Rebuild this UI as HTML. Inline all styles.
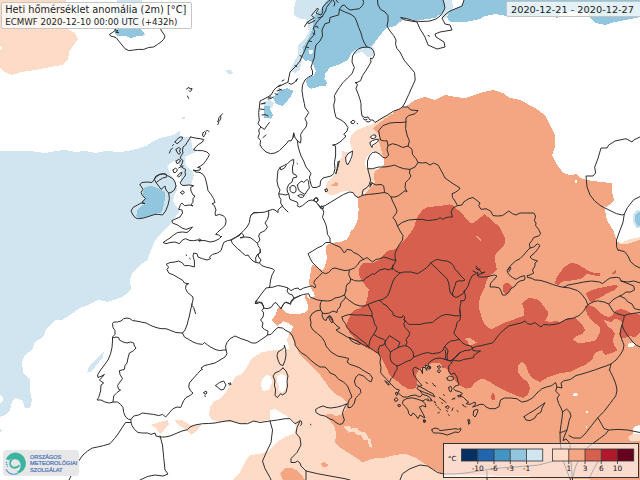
<!DOCTYPE html>
<html><head><meta charset="utf-8"><title>Heti hőmérséklet anomália</title>
<style>
html,body{margin:0;padding:0;background:#fff;}
body{width:640px;height:480px;overflow:hidden;position:relative;font-family:"DejaVu Sans","Liberation Sans",sans-serif;}
svg{position:absolute;left:0;top:0;display:block}
.box{position:absolute;box-sizing:border-box;background:rgba(255,255,255,.75);border:1px solid #c4c4c4;border-radius:2px;color:#111;white-space:nowrap}
#title{left:1px;top:2px;width:191px;height:27px}
#date{left:506px;top:1px;width:140px;height:16px}
#legend{left:443px;top:443px;width:196px;height:35px;background:rgba(255,255,255,.6);border:1px solid #333;border-radius:0}
#logo{position:absolute;left:3px;top:449.5px;width:76px;height:26.5px;border-radius:3.5px;background:#e7e7e7}
</style></head><body>
<svg width="640" height="480" viewBox="0 0 640 480">
<g shape-rendering="crispEdges">
<polygon fill="#d1e5f0" points="0,151 10,151 30,151 45,153 55,151 65,150 75,152 85,151 95,153 105,151 120,152 130,150.6 137.5,148.7 146,146 151,142.5 161,137.7 171,135.6 176,133.7 179.4,130 180,137 190,137 191,141 192.5,147.5 196,152 189,155 185,157 185,161 186,166 189.4,168.8 192.5,171 193.7,175 192.5,180 191,184 193,185.6 180.6,185 180,182.5 181,177 181,172 180,167 178,162 176,159.4 172.5,162 167,166 168.7,170 170.6,175 176,182.5 177.5,188.7 174.4,195 173,201 177.5,207.5 180,208.7 178.7,212.5 176,216 171,222.5 167.5,227.5 160,234 155,241 151,250 147.5,260 140,265 132.5,272.5 130,280 131,289 125,295 122,297 108,302 98,300 88,305 80,308 70,315 62,320 55,320 47,328 43,337 35,342 32,350 25,355 22,362 23,372 30,380 30,390 32,400 30,408 25,408 22,400 15,398 12,402 10,410 5,415 0,417"/>
<polygon fill="#92c5de" points="145,187 150,186 155,187 158.7,188.7 162.5,190.6 165,192.5 165,198.7 163.7,205 162.5,210 161,213 156,213.7 150,215.6 143.7,217.5 138.7,218 136,216 137.5,212.5 137,210 141,206 143.7,205 145.6,203.7 142.5,202.5 146,198 143.7,196 142.5,193.7 143.7,190.6"/>
<polygon fill="#d1e5f0" points="87,372 90,365 100,355 104,352 103,357 95,367 90,372"/>
<polygon fill="#d1e5f0" points="226,70 230,70 233,73 230,74.5 227,73"/>
<polygon fill="#d1e5f0" points="182,117 185,117 185,119 182,118.5"/>
<polygon fill="#d1e5f0" points="117,0 142,0 141,29.4 114.4,29.4"/>
<polygon fill="#92c5de" points="114.4,29.4 141,29.4 143,31 144.7,34.4 142.5,36 137.5,36 133,37.5 129.4,37.5 125,35.6 120,35.6 117,36 115,33.7"/>
<polygon fill="#d1e5f0" points="296.5,0 294.7,3.7 294.2,9.4 293.7,14 296.5,17 301,18.7 307,19.7 307.8,26 308.7,31 307,35.6 304,40 299.4,44 297.5,46 298,52.5 298,55 293.7,62.5 290,70 295,73 300,70 301,63.7 302.5,57.5 310,60 320,30 330,0"/>
<polygon fill="#d1e5f0" points="265,101 271,100 273.7,103.7 272,108 265,108 263,104"/>
<polygon fill="#92c5de" points="327.5,0 323.7,4.7 322,8.4 318,12 315,16 313.4,20.6 312.5,28 310,34.7 307.8,39.4 305,44 302.5,47.5 303,50 302.5,57.5 305,61 308.7,60 312.5,62.5 313.7,66 316,71 313.7,75.6 308.7,77.5 305.6,81 307.5,86 311,88.7 316,87.5 321,86 325.6,86 327,82.5 324.4,78.7 325,73.7 330,67.5 340,64 348,60 352,52 358,48 368,48 373,45 378,38 386,28 395,26 400,22 405,19 420,20 435,18 443,12 445,5 443,0"/>
<polygon fill="#ffffff" points="308.7,50 312.5,50.5 313,53 310,54.5 308.7,52.5"/>
<polygon fill="#92c5de" points="272.5,97.5 281,90 287,88 293.7,91 290,97.5 283,106 276,104"/>
<polygon fill="#92c5de" points="264.4,106 270,106 270.6,110.6 273,115 271,118.7 264.4,117.5 263.7,112.5"/>
<polygon fill="#d1e5f0" points="352,52 358,48 368,48 373,45 374,50 373,56 368,57 362,52 355,54"/>
<polygon fill="#d1e5f0" points="443,0 445,5 443,12 440,16 445,19 450,12 453,8 452,0"/>
<polygon fill="#92c5de" points="464,0 462,6 450,11 447,17 450,22 465,22 480,19 485,16 495,14 507,16 520,17 540,17 555,17 557,19 559,16.5 561,12 575,11.5 588,12 590,17 595,23 605,25 615,22 625,20 640,17 640,0"/>
<polygon fill="#fddbc7" points="0,0 66,0 66,28 75,33 78,39 73,46 69,52 68,60 62,65 50,67 35,70 22,72 12,75 5,72 0,68 0,50 2,48 0,45"/>
<polygon fill="#fddbc7" points="390,113.7 382.5,117.5 375,122.5 367.5,126 360,128.7 355,131 351,136 350,141 351,146 352.5,151 347.5,152.5 342.5,151 342,157.5 339,160 338,167.5 336,173.7 331,178.7 327.5,182.5 325.6,187.5 327.5,193.7 332,195.6 337.5,193.7 343.7,191 350,191 353,193.7 355.6,197 357.5,197.5 375,185 385,150 392,114"/>
<polygon fill="#f4a582" points="330.6,185.6 336,182 338.7,183.7 338,185.6 332.5,186.3"/>
<polygon fill="#fddbc7" points="297.5,349 294,342 292,337 289,333 287,340 290,349 277,350 262,352 251,359 247,367 242,374 235,377 231,385 226,392 220,399 214,401 210,407 209,415 212,420 220,422 232,422 245,424 252,422 260,421 270,420 270,410 275,409 285,415 290,419 293,420 296,427 295,433 285,437 277,442 270,450 260,454 250,455 245,462 240,472 232,480 620,480 620,440 400,440 350,400 310,355"/>
<polygon fill="#ffffff" points="262,379 266,375 271,376 272,383 269,390 263,391 261,385"/>
<polygon fill="#ffffff" points="277.5,376 281,373.7 285,375 287,380 286,388.7 282.5,392 279.4,391 278.7,386 277,381"/>
<polygon fill="#fddbc7" points="150,425 157.5,422.5 167.5,420 169,424 164,430 160,434 155,427.5"/>
<polygon fill="#fddbc7" points="175,420 181,419.5 190,425 201,425 196,431.5 191,435 186,430 177,424"/>
<polygon fill="#f4a582" points="392.5,113.7 395,110 405,107 415,100 425,97 435,100 445,95 455,97 465,98 480,93 493,90 503,93 510,98 520,100 535,108 545,115 550,125 555,135 555,147 552,155 556,163 563,173 570,175 577,174 580,178 587,180 600,182 612,183 612,192 614,200 612,203 606,207 604,206 607,220 614,232 617,242 625,244 635,240 640,239 640,480 600,480 560,478 520,476 470,475 443.7,473.7 440,472.5 430,467.5 422.5,462.5 415,457.5 405,453.7 395,455 385,457.5 372.5,458.7 362.5,462.5 357.5,458.7 350,453.7 340,447.5 335,442.5 336,435 335,427.5 332.5,423.7 329.4,420 326,416 327,414.4 332,413.7 336,416 340,415 345,411 347,406 347,403 345,400 341,397 336,394.4 331,390 326,383 321,376 315,370 308.7,363.7 303.7,358.7 299.4,353.7 297.5,349 294.4,342.5 292.5,337.5 289,333 292,330 293,326 288,323 283,321 280,324 277,326 272,320 276,314 278,308 280,307 283,310 285,312 290,313.7 297,314 304,313 308,310 307.5,303.7 304.4,296 306.5,295 309,299 311,298 315,296 313.7,292.5 310.6,287.5 308.7,282.5 310,277.5 310.6,272.5 311,267.5 312.5,265 316,266 322,270.6 323.7,268.7 325.6,263.7 327,257.5 325.6,251 326,246 330,243.5 335,242.5 341,242 347,239.4 349.4,235 351,230 353,230 355.6,225 357.5,220 358,215 358.7,210 358,203.7 357.5,197.5 361,196 366,192.5 371,187.5 375,182.5 373.7,176 375,171 379.4,168.5 383.5,165 384,160 382.5,155 381,148.7 379.4,142.5 378.7,135 376,131 372.5,128.7 378.7,123.7 385,118.7"/>
<polygon fill="#ffffff" points="372.5,151 376,152 378.7,153.5 382,157.5 383,162.5 381,166 378.7,168.7 372,169.5 367,169 364.5,163 366,158 369,154"/>
<polygon fill="#ffffff" points="345.6,157.5 348.7,153 352.7,152 353,155 352,160 348,163.7 346,162.5"/>
<polygon fill="#ffffff" points="370,136 372.5,134.4 375.6,135 375,138 372,138.2"/>
<polygon fill="#ffffff" points="370,142.5 373.7,140 378,139.4 377.5,143 373.7,145.6 371,146.3"/>
<polygon fill="#ffffff" points="575,180 577,180 577,183 575,183"/>
<polygon fill="#fddbc7" points="343,425.8 349,425.5 354,432 348.5,432.6"/>
<polygon fill="#fddbc7" points="351,427.5 357.5,428.5 362.5,435.5 356,434.4"/>
<polygon fill="#fddbc7" points="359.5,431 365.5,432.6 370,440.5 363,439.5"/>
<polygon fill="#fddbc7" points="367,437.8 370.6,439.5 372.3,448 369,446.4"/>
<polygon fill="#f4a582" points="321,463 324,462 329,465 326,467 322,467"/>
<polygon fill="#f4a582" points="280,473 285,468.5 291,467.5 297.5,471 302.5,476 305,480 283,480"/>
<polygon fill="#d6604d" points="369.4,290 367.5,288 365,285 362.5,281 360,277.5 358.7,273 359.4,268.7 360.6,265.6 363.7,263 368.7,262.5 373.7,262.5 378,260.6 381,258.7 382,256 385,253 388.7,250.6 393.7,250 397.5,247.5 401,243.7 405,240 408.7,235 412.5,230 415,225 416,220 418.7,215 422.5,210 428,207 440,206 445,205 450,204.4 453.7,206 458.7,210.6 463.7,215.6 468,220.6 472,223.7 476,221 481,217 484.4,214.4 488,217 493.7,222 499.4,227 502,232 505,238 505.6,241 504.4,244.4 500.6,249.4 498,251 495,256 495.6,263.7 497,270 493.7,272.5 488.7,277 486,282.5 484.4,288.7 480.6,296 478.7,302.5 479.4,310 480,311 482,318.7 485,325 491,329.4 497.5,326 503.7,323 511,320.6 518.7,317.5 524.4,316 524.4,310 522,303.7 526,300 530,297.5 538.7,300 543.7,306 548.7,313 545,321 550,322 555,321 560,322 567.5,318 576,318 577.5,320 583,326 585,330 582.5,334 576,336 573,340 577.5,342.5 585,342.5 594,341 597.5,337.5 600.6,331 600,327.5 596,324 591,320 587,314 585,306 589,305 595,307.5 600,312.5 605,316 609,317 612.5,315 615,311 620,309 625,310 630,312.5 635,313 640,315 640,332.5 635,337.5 630,336 625,338 621,337.5 619,334 621,329 622.5,324 620,320 615,319 611,322.5 607.5,321 604,320 607.5,326 612.5,330 615,334 612.5,340 614,345 617.5,350 612,353 605,355 602,350 595,353 592,360 585,365 578,368 570,372 560,373 548,377 540,382 532,378 528,372 526,365 522,362 518,365 518,372 522,378 528,382 530,388 527.8,395 523,398 515,395 506,391 497.5,387 491,382.5 485,379.4 480,379.4 475,382.5 471,387.5 466,388.7 460,385.6 455,380 450,375 447.5,370 443.7,367 440,363 435,362.5 430,363.7 425,366 418.7,370 416,375 417,380.6 417,385 415.6,388 412.5,389.4 407.5,388.7 402.5,385.6 397,381 392,377.5 388.7,373.7 387.5,370 385,365 380,355 372.5,350 368.7,348.7 363.7,346 358.7,342.5 353.7,337.5 349.4,332.5 347.5,327.5 347,323 348.7,318.7 351,313 355,310 361,307.5 365.6,303.7 367.5,297.5 368.7,290"/>
<polygon fill="#d6604d" points="554.8,283.6 557,276.6 563.4,268 571,262.5 577.5,264 587,270 594.7,273.4 600,273.4 599.4,276.6 593,275 587,274 580.6,279 571,280.5 563.4,281 558,285"/>
<polygon fill="#d6604d" points="612,273.4 615.8,270 616.5,272 613.5,274.3"/>
<polygon fill="#d6604d" points="586,293 594.7,289 605.6,286.7 615,285 619,286 615,289.8 607,293.7 599.4,297.7 593,301.6 590,301.6 587,296"/>
<polygon fill="#d6604d" points="503,285.6 506,282.5 510,283.7 512,287 509.4,290.6 506,294.4 503.7,292.5 502.5,288.7"/>
<polygon fill="#d6604d" points="491,396 493,392 495,395.6 495.6,399.4 493.7,400.6 491,398.7"/>
<polygon fill="#f4a582" points="465,339.4 467,337.5 470,338 473.7,340.6 477,342.5 473.7,344.4 470.6,345.6 468,343.7 467.5,340.6"/>
<polygon fill="#f4a582" points="475,236 476.5,235.5 481,240 480,241"/>
<polygon fill="#ffffff" points="627.5,345 630,342.5 635,343 634,347 629,347.5"/>
<polygon fill="#ffffff" points="586.3,411 588,411 588,413 586.3,413"/>
<polygon fill="#ffffff" points="585.5,426 587,426 587,427.6 585.5,427.6"/>
<polygon fill="#ffffff" points="573,394.5 575,393 578,394 576,396 573.5,396"/>
<polygon fill="#ffffff" points="632.5,429 636,426 640,425 640,434.5 633,434"/>
<polygon fill="#fddbc7" points="628,437 633,434 640,434.5 640,441 630,441"/>
<polygon fill="#d1e5f0" points="633,215 636,210.5 640,210 640,228 636,227.5 633,222"/>
<polygon fill="#92c5de" points="635,216 637.5,212.5 640,212 640,226 637,225.5 635,221"/>
<polygon fill="#fddbc7" points="620,243.5 630,239 640,237 640,240 632,242.5 625,244.5"/>
<polygon fill="#d1e5f0" points="0,429 2,430.5 0,432.5"/>
<polygon fill="#ffffff" points="0,395 3,397 3,401 0,403"/>
</g><g fill="none" stroke="#2e2e2e" stroke-width="1" stroke-linejoin="round" stroke-linecap="round">
<polyline points="115.6,28.7 115,30.6 112.5,32.5 109.4,34.4 110.6,36 116,37.5 118.7,41 122,45 125,48.7 128.7,50.6 133.7,50 138.7,49.4 143.7,49.4 148.7,47.5 153.7,47 157.5,44.4 161,42 163.7,39.4 165,36 163,33 161,30 160.6,28"/>
<polyline points="115.6,31 118,30.5 116,32.5 118.5,32.5"/>
<polyline points="186.5,89 188,88 189,87.3 190,89 192,88.3 191.5,90.5 190,91.5 189,90.5"/>
<polyline points="187.5,96 188.7,98.5"/>
<polyline points="222.5,113.7 220.5,116 219,117.5 218.5,120 217.5,121.5 219,122 217.8,124.5"/>
<polyline points="220.5,116 221,118 219.5,121"/>
<polyline points="203,133 204.5,131.5 206,133 204.5,135.5 203.5,137 202.5,135 203,133"/>
<polyline points="206,131 207.5,130.5 209,131.5"/>
<polyline points="190.6,137 195,138 200,138.7 203.7,139.4 202.5,142 198.7,144.4 195.6,147 193.7,150 197.5,150.6 202.5,150.6 207,152 209.4,154.4 208,157.5 206,160.6 203.7,163.7 200.6,166 197.5,167.5 200.6,168 200,170 196,170.6 193,170 196,172 200,172.5 203,174.4 205,177.5 206,181 207,185 208,190.6 211,194.4 213.7,198.7 215,202.5 212,203.7 214.4,205.6 216,210 215,213 215.6,215.6 219.4,214.4 223,215.6 225.6,218 226,222 225,225.6 222.5,228 220,230 217.5,232.5 215.6,234.4 218.7,235 221,237 222,236 219.4,238.7 215,241 210,242 205,240.6 200,240.6 197.5,240 193.7,240.6 190,240.6 185.6,238.7 182.5,240 179.4,243.7 175,242 170,242.5 166,243.7 163,242.5 166,240.6 170,238 173.7,235 177.5,232.5 182.5,232 187,232.5 190,230 192.5,227 190,228 186,229.4 182,228 177.5,225 172.5,223 172,220.6 176,218.7 180,217 182.5,213 182,210 178.7,209.4 180.6,204.4 182,203 184.4,205.6 190,205 193,206 191,204.4 193,202.5 193,198.7 195,196 193,195 191,191 190.6,187.5 193.7,185.6 188.7,185 183,185.6 180.6,183.7 180,183 182,180 183.7,177.5 185.6,175 185,172.5 185.6,169.4 183,168 180.6,166 182,163.7 183,160.6 180,158 181,156 183,153 182.5,150 183,147 185.6,145 187,142.5 188.7,140 190.6,137"/>
<polyline points="198.7,239.5 200,238.8 201.2,240 200,241.5 198.7,240.5"/>
<polyline points="180.6,192.5 183,190.6 184.4,192.5 182,194.4 180.6,192.5"/>
<polyline points="175,142 177,139.4 180,137 182.5,137 182,139.4 179.4,142 177,143.7 175,142"/>
<polyline points="169.4,153 170.6,150 172.5,148"/>
<polyline points="172.5,145.6 173.5,144.5"/>
<polyline points="176,149.4 178.7,147.5 180.6,148.7 179.4,151 180.6,153 178.7,154.4 177,152 176,149.4"/>
<polyline points="176,161 178.7,159.4 180.6,160.6 178.7,163 177,163.7 176,161"/>
<polyline points="173,170 175.6,168 177.5,170 175.6,172.5 173.7,172.5 173,170"/>
<polyline points="178.7,168 181,166.5 183,166"/>
<polyline points="177.5,176 180,173 182,172.5 180.6,175.6 178.7,177 177.5,176"/>
<polyline points="140,184.4 142,182.5 147,182 152,182.5 154.4,179.4 156,177 160,174.4 165,173.7 167.5,175.6 170,177 173,178.7 175,182 176,186 174.4,190 171,192.5 168.7,193 169.4,198.7 168,205 165.6,211 162.5,215 158.7,214.4 155,214.4 150,216 143.7,218 138.7,218.7 135.6,218 133,215 131,211 133,207.5 137.5,205 141,203 145,203.7 142,202 145.6,198.7 142.5,195.6 141,192.5 143,189.4 140.6,185.6 140,184.4"/>
<polyline points="154.4,179.4 156,182.5 158.7,186 161,189.4 165,186 166,190 168.7,193"/>
<polyline points="154.4,179.4 155.6,176.3 159.4,174.4 163.7,173.7 166.3,175 166.9,176.9 162.5,178.1 158.7,180.6 156.3,182.5"/>
<polyline points="240,234.4 238,235.6 235,238 231,240 227.5,240.6 223.7,242.5 222.5,246 221,250.6 217.5,253 212.5,254.4 209.4,257 210.6,258.7 207,260 202.5,258.7 198,257 197,253.7 193.7,253 193,256 194.4,261 194.4,267 189.4,265.6 184.4,265.6 182.5,263 178.7,261 175,262 170,262.5 166,264.4 168.7,267 167,269.4 168.7,273 173.7,275 178.7,278 183,280.6 184.4,283 188.7,283.7 186,285 185.6,288.7 187.5,292.5 190.6,295 193,297 193,300 192,303.7 190.6,310 189.4,316 188,321 187,325 185,330 182.5,333 176,332.5 171,330.6 166,328.7 161,328.7 156,327.5 151,325.6 146,323 141,322 136,321 132.5,320.6 130,318.7 127,318 123.7,318.7 121,321 117.5,322 113.7,322 112.5,323.7 113,327.5 115,330.6 115,334.4 112.5,337 112.5,341 112,347.5 110.6,353.7 108,360 104.4,365 100.6,370 97.5,375 98,377.5 102,376 104.4,374.4 102,377.5 99.4,380 102,382 103.7,383 101,385 100.6,391 98.7,397.5 97,400 101,400 105,402 109.4,403 113,402 117.5,402 120.6,404.4 123,407.5 123.7,412.5 125.6,417 128.7,419.4 131,419.4 133.7,416 138.7,415 142.5,413 147.5,413.7 153.7,414.4 158.7,415.6 162.5,414.4 165.6,417 167.5,415 170,412 173,408.7 177,407 180.6,407.5 182,404.4 183.7,400.6 186,397.5 190,395.6 193,393 190.6,391 188.7,387 189.4,383 193,378.7 197.5,373.7 201,370 202.5,369.4 201,368 204.4,365.6 209.4,364.4 215,363 220,360 225,357 227,353.7 226,350 225.6,346 227,342.5 230,338.7 235,336 241,338.7 247,340.6 252,343 256,343 260.6,340 265,337 267.5,335 271,334.4 275,330 278,327.5 282.5,328 286,330.6 290,332.5 292.5,336 295,342.5 295,345 298.7,350 301,352.5 306,355.6 310.6,360 315,363.7 320,367 325,367 328.7,370.6 330,373 335,375 338.7,379.4 343.7,382 347.5,386 350,392 352,397 349.4,399.4 348,403.7 348,407.5 351,407.5 354.4,403 355.6,398 358.7,395 361,392.5 360,388.7 355.6,385.6 354.4,381 356,377 358.7,374.4 363.7,376 367.5,380 371,382 372.5,378 370,374.4 366,372 362.5,370 360,368 355,366 350,364.4 347,362 348.7,358.7 345,357.5 337.5,356 331,352 326,346 325,342.5 322,337.5 317.5,333.7 313,330 310.6,326 311,322.5 310,317.5 312,313.7 316,311 320.6,310 322.5,313 322,315.6 323.7,319.4 326,320.6 327.5,317 329.4,315.6 331,318.7 333.7,322.5 337,326 340,328 336,330 338.7,332 343,334.4 347,337 351,338 355,340 358.7,342.5 363.7,345 368.7,347 373.7,350.6 378.7,353.7 380.6,357.5 380,362.5 381,367.5 380.6,372.5 382.5,375 386,378.7 389.4,382.5 392,385 395.6,388.7 399.4,390 398,392.5 400.6,395 403,397 407.5,397 411,395.6 415,395 420,397 422.5,394.4 427,395.6 430,397.5 432,400.6 429.4,401 425.6,399.4 422.5,401 425,403.7 426,407 422.5,405.6 419.4,407 421,410 423,413.7 425,418 423,417 420,415 418,418.7 416,415.6 413,413 411,416 408.7,413.7 408,410 405.6,407 402.5,403.7 403,400.6 407,398.5 412,397.8 417,399 422.5,401"/>
<polyline points="186,255 186.8,255.5"/>
<polyline points="189.5,258.3 190.3,259"/>
<polyline points="192,303.7 192,305.6 193.7,307.5 195.6,313.7"/>
<polyline points="112.5,338 116,337 118.7,337.5 119.4,340 123,342 127,343 130.6,342 133.7,343 134.4,346 136,348 133.7,350.6 129.4,353 128,358 127,363 125,365.6 124.4,369.4 119.4,370.6 120,374.4 122.5,378.7 120,382 117.5,385.6 118.7,389.4 120.6,390 117,392.5 113.7,396 113,402"/>
<polyline points="182.5,333 184.4,337 188.7,339.4 193,342 197.5,343.7 202.5,344.4 204.4,342.5 207.5,345 210.6,347 215,349.4 219.4,350.6 223.7,350 226,350"/>
<polyline points="215.6,385.6 219.4,382.5 223.7,381 226,385 223.7,389.4 221,390 218,387.5 215.6,385.6"/>
<polyline points="203.7,392.5 206,391 207,393 205,394.4 203.7,392.5"/>
<polyline points="204.6,396 205.6,396.3"/>
<polyline points="228.5,383.5 230.5,382.8 231,384.5 229,385"/>
<polyline points="131,419.8 131,422.5 125.6,422.5 122.5,427 118.7,433 114.4,438.7 110,443.7 103.7,445.6 97.5,447 92.5,448 87.5,451 83,455 80,459 77,464 74,470 71,476 69,480"/>
<polyline points="131,422.5 132,425.6 134.4,429.4 138,432.5 142.5,433 147.5,433 151,434.4 155,433 156,436 160,437 165,437 170,436 176,433.5 182,431 187.5,429.7 190,427 195,425 202.5,423.7 208.7,423.5 215,423 220,422 226,421 230,420.6"/>
<polyline points="231,240 232.5,243.7 235,246 237.5,248.7 240,250.6"/>
<polyline points="267.5,335 268,331 264.4,329.4 262,327 263,323 260.6,320 263,317 263.7,313 262,310.6 263.7,308 267,308.7 271,307.5 273.7,303.7 276,302.5 278.7,306 281,308.7 283.7,303.7 286,302 290,303.7 292.5,300.6"/>
<polyline points="263.7,308 263,305 260,302.5 256,303.7 255.6,301 257,300"/>
<polyline points="284.4,345.6 285.6,349.4 286,355 285,360.6 283,365.6 280,364.4 278,360 277,355.6 278,352 282,349.4 284.4,347.5 284.4,345.6"/>
<polyline points="283,368 286,371 288,376 287,381 287.5,386 286,392.5 282.5,395 280.6,393.7 277.5,397.5 275,395.6 275.6,390 274.4,385 275,381 273,376 275,373 279.4,371 283,368"/>
<polyline points="347,403.7 342.5,405.6 337.5,407 331,408 327,407.5 323,406 318.7,407.5 315.6,409.4 316,412.5 320,415 325,416 329.4,418.7 333,420 336,422.5 339.4,424.4 342.5,423.7 344.4,420 343,416 342.5,412.5 344.4,408 347,403.7"/>
<polyline points="300,420.5 301.5,421.5 301.8,424 300.5,425.5"/>
<polyline points="310.3,424.2 311,424.8"/>
<polyline points="328.7,317 330,315.6 332,318 333,321 332,323 330,320.6 328.7,317"/>
<polyline points="349.4,338 353.7,339.4 357.5,341 361,343.7 358.7,344.4 355,343 351,340.6 349.4,338"/>
<polyline points="320.6,310 320,306 320.6,302.5 322.5,300.6"/>
<polyline points="292.5,300.6 296,297.5 300,295.6 303.7,294.4 308.7,293.7 310,297 312.5,298 317.5,300 322.5,300.6 327.5,301 331,300.6 335,298 340,297 344.4,295 345.6,292 346,290"/>
<polyline points="322.5,313 325,313.7 329.4,313 333,311 337,312.5 337.5,309.4 340,307 341,302.5 344.4,299.4 345.6,297 344.4,295"/>
<polyline points="345.6,297.5 350,301 355,304.4 360,306 365,306 368,304.4 373.7,302 380,300"/>
<polyline points="368,304.4 370,308.7 372,312.5 372,316"/>
<polyline points="342,317 343,320.6 345.6,323.7 347,327.5 351,332 356,335.6 361,340 366,343.7 368.7,347"/>
<polyline points="342,317 345,315.6 350,314.4 355,315 362.5,315 368.7,315.6 372,316 373.7,320 374.4,323.7 377,327.5 375.6,331 373.7,334.4 370.6,338.7 369.4,343 368.7,347"/>
<polyline points="373.7,334.4 378.7,337.5 383.7,339.4 385.6,341 383.7,345 380,345.6 378,350 378.7,353.7"/>
<polyline points="385.6,341 389.4,335.6 394.4,338.7 400,342.5 398,347.5 393.7,350 390.6,352 388,348.7 385.6,345.6 385,343 385.6,341"/>
<polyline points="398,347.5 402.5,346 406,345.6 407,342.5 406,339.4 408.7,336 410,333 407.5,330 405,327.5 403.7,323.7 405.6,321 404.4,320"/>
<polyline points="405.6,321 408.7,324.4 413.7,324.4 420,324.4 426,323 432.5,322.5 436,319.4 441,316 446,314.4 451,315 456,316 460,315.6"/>
<polyline points="406,345.6 410,348 413,352 413.7,357 411,360 407.5,361 403.7,363 400,365 397,366 392.5,363 390.6,360 390,355.6 390.6,352"/>
<polyline points="397,366 397,369.4 395,372.5 393.7,376 391,378.7 389.4,382.5"/>
<polyline points="413.7,357 417.5,355.6 422.5,353.7 427.5,352.5 432.5,353.7 437.5,353 440,352.5 443,350 444.4,347 447,343.7 450.6,341 454.4,340.6 459.4,339.4"/>
<polyline points="444.4,347 447,348.7 448,351 447,355.6 447.5,359.4 448.7,360.6"/>
<polyline points="422.5,394.4 420,390.6 417,388.7 417.5,387 422,385.6 419.4,382.5 417,379.4 413.7,375 413,370 412.5,369.4 415,367 419.4,369.4 421,370 422.5,373.7 422.5,367.5 425,367.5 427,370.6 425,365 428,366 430,368.7 428,363.7 431,361 435,358.7 440,358 445,359.4 448.7,360.6 451,361 454.4,358.7 457,355 460,352.5 465,350.6 470,350 472.5,348 471,346 466,345 462,342.5 459.4,339.4 456,336 453.7,333 456,327.5 457,322.5 460,320 460.6,315.6 459.4,310"/>
<polyline points="417.5,385 420.6,387 425,389.4 429.4,392 433,393.7 435,397 432,395.5 428,393.7 424.4,392.5 420,390.6"/>
<polyline points="427.5,367.5 429,366 431,367 430,369 428,369 427.5,367.5"/>
<polyline points="385,381 387.5,382.5 389.4,385 387.5,384.4 385,381"/>
<polyline points="395.6,393 397,392 398,394.4 396.3,395.5 395.6,393"/>
<polyline points="394.4,399.4 396,397.5 398,399.4 397,401 395,401.3 394.4,399.4"/>
<polyline points="398,405 400,404.4 400.6,406 398.8,406.9 398,405"/>
<polyline points="423.7,420.6 425,420 425,422 423.9,422"/>
<polyline points="332,0 329.4,3.7 326.5,7.5 325.6,11 322.8,15.5 320,18.7 317,22 314.8,25.3 313.4,28 314.8,32 313.4,35.6 310,39.4 307.8,43 306.9,45 305,50 302.5,55 300,61 296,66 293,69 290,72 289,77 288,82 284,84 280,86 277,87 274,90 271,95 266,98 260,101 259.5,106 258.7,112.5 259,118 259.4,120 258,123.7 261,127 258.7,130 259.4,133.7 258,137.5 260.6,140.6 260,145 262.5,148.7 266,152 270.6,153.7 275,153 279.4,150.6 283,147 287,143 288.7,140.6 291,141 293,137.5 293.7,133 295,137.5 297.5,141 300.6,143 301,138.7 300.6,134.4 303,130.6 306,127 307,123 305.6,120 305,118.7 308.7,112.5 305,107.5 304.4,103.7 303,97.5 302,91 302.5,85 305,80 308.7,77 312.5,75 312.5,71 311,67.5 312.5,62.5 314.4,57.5 315,50 316,45 320,41 322.5,36 322,30 325,23.7 329.4,22.5 330,17.5 335,16 338.7,15 339.4,9.4 342,5.6 344.4,5 347,8 350,10 354.4,9.4 359.4,8.7 362.5,5.6 363.7,2.5 363,0"/>
<polyline points="269.4,122.5 267,125.6 264.4,129.4 261,127"/>
<polyline points="266,135 263,137.5"/>
<polyline points="262,115 265,114.5 268,116"/>
<polyline points="260,109 264,109.5"/>
<polyline points="261,104 265,103"/>
<polyline points="268,99 271,98.5 273,97"/>
<polyline points="279,89 282,90"/>
<polyline points="293,137.5 293.7,133"/>
<polyline points="297.5,141 298,146 299.4,151 301,156 303.7,161 306,167 309.4,171 311,173.7 309.4,177 310,180.6 311,184.4 312.5,187.5 316,187.5 320,186 320.6,181 323,178 327,177 331,176 333.7,173.7 335,168.7 334.4,162.5 335.6,156 335.6,150 335.6,146 332.5,145 336,144.4 340,142 343.7,138.7 346,136 343.7,134.4 347,131 348,127.5 345,123 341,120 336,117.5 334.4,111 333.7,105 335,100 334.4,95.6 337,91 339.4,87.5 343,82.5 347.5,78 352,73.7 354.4,67.5 352,62 352.5,56 354.4,53 357.5,49.4 362,47.5 367,47 371,48 373.7,51 374.4,55 372.5,58.7 370.6,58 371,62 368.7,66 365.6,71 362.5,75.6 360.6,80.6 357,82.5 355,82.5 357.5,84.4 356,88.7 358,93.7 360,99.4 361,103.7 361,108.7 362,116 365,117.5 368,117 370,120 373,120 375,122.5 381,118.7 387.5,115 393.7,111 398.7,109.4 402.5,107 407.5,107 411,110 418,110.6 415,113.7 408.7,115.6 406,118 406,122 401,122.5 396,122.5 390,123 383,125.6 378.7,130.6 379.4,135 380.6,140 384.4,141 387,140.6 388,145.6 387,150 388.7,155 386,158 383,157.5 380,154.4 376,152 372.5,152.5 369.4,156 367.5,161 367.5,166 368,170 369.4,175 370.6,180 369.4,184.4 367,187.5 363,190 362,195.6 358,197.5 355,195.6 353,192.5 349.4,192 343.7,194.4 337.5,198 331,202 325,205.6 320.6,207 318,204.4 316,202 318,200.6 317.5,198 315,198 313.7,201 312,200 308.7,200.6 305.6,203 302.5,205.6 299.4,207 297,205.6 298,204.4 297,202 293,200.6 290,199.4 289.4,197 288.7,193.7 287.5,192 287,188.7 288.7,184.4 292,182 293,178 297,177 296,175 293,173.7 292.5,170 292.5,167 293.7,163 293.7,159.4 290.6,160.6 287.5,163.7 283.7,165.6 280,167.5 278,170.6 277.5,175 277,181 278,186 280,190 278.7,193.7 279.4,197 281,199.4 280.6,203 282.5,206 280,208 278,210 278,212.5 275,210 272.5,209.4 268.7,210.6 265,212 261,212.5 257.5,212.5 253.7,213 251,215 250,218 249.4,222.5 247,227 243.7,230.6 240.6,233.7 238.7,236 235,237.5 231,240"/>
<polyline points="282.5,206 283.7,208 286,210 288,212"/>
<polyline points="278.7,193.7 282.5,194.4 286,195 288.7,193.7"/>
<polyline points="280,167.5 281,170 284.4,168 286,165.6"/>
<polyline points="238.7,236 241.2,233 243.7,235 243,237.5 240.6,238"/>
<polyline points="251,215 254,212.5 257.5,212.8"/>
<polyline points="339.4,9.4 345,12 351,14.4 355,17.5 357,22.5 358.7,27.5 361,33 362.5,38.7 364.4,43 367,47"/>
<polyline points="377.5,0 378,5 380.6,9.4 385,12 388,15.6 388,21 387,26 390,31 393.7,35.6 396,40 395.6,44.4 397,48.7 400,52 404,60 409,66 414.5,72.5 415.2,80 412,87 408.7,94.5 405.3,102 402.5,107"/>
<polyline points="290,187.5 292,185.6 294.4,185.6 296,188 296,191 294.4,193 292,192.5 290,190.6 290,187.5"/>
<polyline points="297.5,185 299.4,182.5 302,181 303.7,182.5 307,179.4 308.7,181 308.7,184.4 309.4,188 307,191 305,194.4 302.5,193 299.4,191 298,188 297.5,185"/>
<polyline points="298,195.6 300.6,194.4 304.4,195.6 302.5,197.5 299.4,197 298,195.6"/>
<polyline points="325,189.4 327,188.7 327.5,191 325.6,192 325,189.4"/>
<polyline points="297,163.5 297.6,164"/>
<polyline points="338,162 339.4,161 337.5,168.7 335.8,174 337,168.7 338,162"/>
<polyline points="345.6,157.5 348,153.7 352.5,151 352,156 350,161 347.5,165 346,162 345.6,157.5"/>
<polyline points="351,122 353,120 355,121.5 353.5,123.7 351.5,123.5 351,122"/>
<polyline points="357,123.3 357.8,123.8"/>
<polyline points="370.6,137 372.5,135 375.6,135 376,137 373.7,138.7 371.2,138.2 370.6,137"/>
<polyline points="370,142.5 372.5,140.6 376,139.4 378.7,139.4 377.5,142 375,143.7 372.5,145 372,147.5 370.5,145 370,142.5"/>
<polyline points="363,118.5 365,120 367,119.3"/>
<polyline points="366,121 368,122 370,121.5"/>
<polyline points="406,122 405.6,128.7 407,135 409.4,141 408,146 412,149.4 412.5,154.4 416,158.7 418,162.5"/>
<polyline points="388,145.6 392.5,143.7 397.5,145 402.5,147.5 408,146"/>
<polyline points="368,168.7 372.5,168.7 378.7,167 385,167 391,166 394.4,165 398.7,167 403.7,168.7 410,169.4 415,167 418,162.5 422.5,163 426,162.5 430,165 433.7,163 438,165 442,172 445,178 452,183 460,188 458.7,190 455,192.5 452,193.7 452.5,197.5 455,201 457.5,205.6 462,205 463.7,202 468.7,198.7 473,197.5 477,200.6 480,203 478.7,205.6 481,209.4 486,208.7 490.6,211 493,215.6 497.5,216 502.5,215.6 508.7,211 512.5,213.7 516,215 520,213 527.5,213 533.7,213 535.6,216 534.4,220.6 536,223 535.6,225.6 538.7,229.4 540.6,233.7 538.7,236 533.7,237.5 532,240.6 529.4,243.7 530,248"/>
<polyline points="372,183 376,185 381,184.4 383.7,186 384.4,190.6 384.4,192.5 376,193.7 368.7,194.4 362,195.3"/>
<polyline points="370,187 372.5,183 371,182.5 370,186"/>
<polyline points="384.4,192.5 388,193.7 391,197 395,197 398.7,195.6 402,193 405,190.6 407,192 405,187.5 405.6,182.5 408.7,179.4 411,176 409.4,173 410,169.4"/>
<polyline points="391,197 392.5,201 395,206 397,210.6 396,213.7 393,217.5 395.6,221 397.5,226 402,222.5 408.7,220 416,219.4 422.5,219.4 427.5,220.6 432.5,220 437.5,219.4 440,217.5 442.5,219.4 445,218 448.7,217 452.5,217 451,212 453,208 457.5,205.6"/>
<polyline points="397.5,226 400,231 403,235.6 402.5,240 399.4,244.4 397,248.7 395,253.7 395,258 396,260"/>
<polyline points="318,204.4 320,207.5 322.5,208 323.7,212.5 322.5,217.5 324.4,221 326,225 327,230 327.5,234.4 330,238 330,242.5 335,245 340,247 344.4,253 347,249.4 351,250 353.7,252.5 358,254.4 361,257 363.7,259.4 367,257.5 370,260 372.5,262 376,259.4 380,258.7 383.7,257 387.5,258 393,260 396,260 394.4,263.7 392.5,267.5 392,270"/>
<polyline points="330,242.5 325.6,242.5 322.5,245.6 317.5,248 312.5,251 310,252.5 308,253.7 310,258 312,262 316,266 320,270 322.5,272.5 325.6,273.7 328.7,272.5 332,268.7 335,268 340,269.4 345,270.6 349.4,270 354.4,268 357.5,265 360,261 363.7,259.4"/>
<polyline points="349.4,270 348.7,274.4 350.6,278.7 350,282.5 347,284.4 346,287.5 346,290"/>
<polyline points="350.6,278.7 354.4,280.6 358.7,281 363.7,280.6 365.6,278 369.4,276 372.5,273.7 374.4,274.4 377,272 380,270 385,268.7 388.7,270 392.5,267.5"/>
<polyline points="322.5,272.5 319.4,276 315.6,279.4 313.7,282.5 315.6,285.6 315,288 312.5,286 311,286 307.5,287 303.7,288 300,290 298,288 294.4,288.7 291,290.6 288,288"/>
<polyline points="268.7,210.6 268.7,215 267.5,219.4 265,223 267.5,227 265,230.6 260,233 258.7,236 260,240 257.5,243 258,245.6 260,248.7 260.6,252.5 258,254.4"/>
<polyline points="240.6,237.5 245,237 250,237.5 253.7,240 257,243"/>
<polyline points="240,250.6 242.5,253 245.6,255.6 248,255 250,258 253,261 256,262.5 259.4,263 262,265.6 265.6,267 270,268 273.7,269.4 274.4,270.6 272,275 270.6,280 270,284.4 269.4,287.5 266,288 263.7,291 260.6,295 257.5,299.4 255,303.7 258,302 262,302.5 263.7,307 263.7,308"/>
<polyline points="258,254.4 260,253 260,250"/>
<polyline points="258,254.4 257,255 255.6,258 256,262.5"/>
<polyline points="259.4,263 261,260 258.7,257 258,254.4"/>
<polyline points="269.4,287.5 273.7,287 277.5,285.6 281,286 285,287 288,288 287,291 288.7,293.7 292.5,295 293.7,298 291,301 290.6,304.4 288,303 285,302.5 283,305 281,308.7"/>
<polyline points="293.7,298 297.5,297 300,295.6"/>
<polyline points="400,273 403.7,272 411,272 417.5,273.7 422.5,270.6 427.5,267 430.6,263 434.4,260.6 437.5,259.4 442.5,260.6 447,261 451,263 453.7,266 455,269.4 458,272 460,275 462.5,277.5 465,280 462.5,281 459.4,280.6 456,282 455,285.6 453.7,289.4 452.5,293 453,296 456,297.5 460,295.6 463.7,293 465,291"/>
<polyline points="430.6,263 435,267 438.7,270.6 443,275 447,278.7 448.7,283 449.4,287.5 450,292 452,295 453,296"/>
<polyline points="393,265 392.5,267.5 395,270.6 400,273 395.6,277 393,281 391,287 389.4,292 387.5,296 383.7,298.7 380,300.6"/>
<polyline points="380,300.6 383,303.7 387,306 390,310 393,312.5 393,315 397.5,317 402,317.5 403,315.6 405,317.5 403.7,320 405.6,321"/>
<polyline points="460.6,315.6 460,310 460,306 461,303 460.6,300.6 463.7,301 465.6,298 465,293.7 463.7,291 466,289.4 468,286 470,280 472,276 475.6,273.7 478,272.5 477.5,275.6 481,273.7 485,272 482,273 479.4,270 476,266"/>
<polyline points="476,268 478,270 480,269"/>
<polyline points="473,271 476,272.5"/>
<polyline points="477.5,275.6 479.4,277 482.5,277 486,277 490,276 494.4,275 497,276 493.7,280 490.6,283 490,287 495,287 499.4,288 501,291 502.5,295 505.6,295 508.7,292.5 511,288.7 515,286 517,283 520,281 524.4,280 525,278 524.4,275.6 520,277 516,279.4 512.5,277.5 508.7,274.4 507,270.6 509.4,267 512.5,263.7 515.6,261 520,258.7 523.7,255 527,251 530,248 533.7,247 537.5,243.7 540,245.6 537.5,249.4 535,252.5 532,255 530,257 532.5,259.4 537.5,261 535,263 535,266 532.5,270 533.7,273 530,275 527,275.6 527.5,277.5 531,278 535,280 540,280.3 546,282 552.5,284.4 560,286.7 569.7,288 577.5,290.6 582,294.5 586,300 587.7,304.7 583.7,311 579,315.6 573.6,318 565.8,319.5 560,323 555,324.4 548.7,325 543.7,324.4 541,327 538,325 535,322.5 531,324.4 527.5,323.7 525,321 521,323 515,324.4 508.7,326 503.7,330 498.7,335 495,340 492.5,343 486,344.4 480,346 477.5,346 472.5,348"/>
<polyline points="508,270 510,267 511,268 509,271.5"/>
<polyline points="563.4,287.5 568,285 576,283.6 583.7,282 591.5,281 599.4,282 602.5,283.6 606.4,280.5 610,278 616.5,277.3 619.7,278 621,281 627.5,282 633.7,281 640,282.8"/>
<polyline points="621,281 628,283.6 633.7,286 634.5,289.8 630.6,292 626,292 622.8,294.5 619.7,296 614,299 608.7,304 604,302 597.8,300.8 593,302 587.7,304.7"/>
<polyline points="608.7,304 611,307.8 613.4,311.7 618,314 624.4,315.6 629,314 633.7,313.3 640,312.5"/>
<polyline points="619.7,296 625,298.4 627.5,301.6 632,304 634.5,308.6 640,310"/>
<polyline points="624.4,315.6 623.6,319.5 622,325 624,330 628,336 632,341 636,345 640,347"/>
<polyline points="618,250 624.4,251.6 628,256 630.6,261.7 635,265.6 640,268"/>
<polyline points="640,137 633.7,140 632,142 626,138.7 615,141 608.7,145 607,148 601,148 597.8,159 594.7,167 595.6,173 593,176 586,176 587,187 590,195 594.7,201 601,206 607,209 616.5,213.7 622.8,215 624.4,213.7"/>
<polyline points="640,196.6 633.7,199.7 627.5,207.5 624.4,213.7 622.8,223 619.7,231 616.5,240 616.5,246.6 618,250"/>
<polyline points="445,350 446,355 445,358.7 450,361 452.5,359.4 457,356 460,352.5"/>
<polyline points="472.5,348 473,350.6 477.5,351 480.6,351 477,353 473.7,355.6 473.7,357.5 468.7,358.7 463.7,359.4 460,361 455.6,360.6 453,360 451,363.7 448.7,366 448.7,371 451,374.4 454.4,373 457,377 458,382 459,385 455,386 453.5,388.5 455,390.5 459,391.5 462.5,393.5 460,395.6 463.7,397.5 466,400 468.7,402 466,403.7 470,404.4 475,402 475.6,404.4 472.5,407 477,405.6 480,404.4 483.7,404.4 486,407 490,408.7 495,408.7 499,406.6 500.5,400 504.4,398 510.6,398 517,398.7 521.6,402 527,401 532.5,398 537,393 542,388.6 546.6,387 551.7,385.6 555.6,382.5 557,387 555.6,391 559.5,395 557,398 558.7,403.6 561,408 562.6,412 562,418.4 561,424.7 560,432.5 560.3,442.5 561,450 562,457.5 566,468.7 570.6,480"/>
<polyline points="524,416.7 528.6,413.6 534,410.5 539.5,406.6 545,402.7 542,408 541,412 537,414.4 534.8,418 530,420.6 526,420 524,416.7"/>
<polyline points="432,429.4 435,428 438,428.7 440,430.6 445,430 450,429.4 455,428.7 458.7,429.4 460.6,428 461,430 458.7,432.5 455,432 451,433.7 447,435 443,433.7 438.7,433 433.7,433 432,431 432,429.4"/>
<polyline points="473.7,411 476,409.4 478,410 477,413.7 475,417 473,415 473.7,411"/>
<polyline points="468,420 469.4,419.4 470,423 468.7,424.4 468,420"/>
<polyline points="447,378 449.4,376 453,377 453.7,379.4 450.6,380.6 447.5,380 447,378"/>
<polyline points="448.7,387.5 450.6,386 452,388.7 451,392 449.4,391 448.7,387.5"/>
<polyline points="458,395.6 461,395 460.6,397 458.3,397 458,395.6"/>
<polyline points="437.5,371 439,369.4 440.6,371 439,373 437.5,371"/>
<polyline points="437.5,366.5 439.5,365.5 440.5,367.5 438.5,368.5 437.5,366.5"/>
<polyline points="442,366.6 443.2,367.2"/>
<polyline points="452,399.4 455,398"/>
<polyline points="463,405.3 464.5,406.3 466,407"/>
<polyline points="433.7,385 435.6,386.2"/>
<polyline points="426,382.5 427.5,383.3"/>
<polyline points="433.7,384.4 432.5,383.4"/>
<polyline points="439.4,397.5 443,400 446,402.5"/>
<polyline points="445.6,407 448,405.6 449.4,407.5 447.5,408.7 445.6,407"/>
<polyline points="453,408 452,410.6"/>
<polyline points="438,413 439.3,412.4"/>
<polyline points="423.7,420 425.6,420.6 425,422.5 423.5,422 423.7,420"/>
<polyline points="430.6,399.4 432,400.3"/>
<polyline points="434,401.5 435.5,402.3"/>
<polyline points="434.5,402.1 435.6,402.9"/>
<polyline points="435.5,404.6 436.6,405.4"/>
<polyline points="437.5,407.1 438.6,407.9"/>
<polyline points="439.5,409 440.6,409.8"/>
<polyline points="441.5,402.6 442.6,403.4"/>
<polyline points="457,410.6 458.1,411.4"/>
<polyline points="446.5,410.6 447.6,411.4"/>
<polyline points="448.2,414.6 449.3,415.4"/>
<polyline points="453.2,398.3 454.3,399.1"/>
<polyline points="462.5,404.6 463.6,405.4"/>
<polyline points="427.5,398.6 428.6,399.4"/>
<polyline points="443.5,394.6 444.6,395.4"/>
<polyline points="557,387 562,388 561,383 563.4,381 570.5,379.4 576,375.5 582,374 588.4,372 594.7,370 600,368 606,366 611,364 616,360 620,355 623,350 624,345 622,340 620,334 621,328 622,325"/>
<polyline points="609.5,370 611,373 613.4,377.8 615.8,384 617,390 615.8,395.8 610,403.6 604,411.4 597.8,417.7 591.6,425.5 585,434 580.6,438 573.6,438 569,435.6"/>
<polyline points="562.6,412 566.5,409 569.7,412 571,416 569,420.8 568,426 567,430 564,437 563,440.6 566,439 568.5,441.5 570,444.4 570.6,457.5 571.5,468.7 572.5,480"/>
<polyline points="560,432.5 563.4,431.7 567,430"/>
<polyline points="597.8,417.7 601,423 604,428.6 608.7,430 618,429.4 627.5,430 640,432.5"/>
<polyline points="608.7,430 605.6,434 599.4,438.7 593,443.4 588,447 583.5,452 579,459 575.5,467 573,476"/>
<polyline points="598.7,460 593,470.6 589.4,478"/>
<polyline points="611,364 609.5,370"/>
<polyline points="230,420.6 240,423.7 247.5,423.7 253.7,421 260,422.5 270,421 277.5,420 285,418.7 290,418.7 295,423.7 300,421 297,427.5 296,433 300,438 301,445 297,452.5 291,458.5 291,462.5 295,462.5 297.5,461 300,463 301,466 306,471 317.5,473.7 330,476 345,478.7 350,480"/>
<polyline points="160,436 162.5,445 163.7,457.5 165,470 168,474 163,476 155,475 147.5,476.5 140,480"/>
<polyline points="270,421 272.5,430 271,442.5 266.5,452 262.5,461 265,468.7 270,477.5 271,480"/>
<polyline points="306,471 306,480"/>
<polyline points="400,480 402.5,473.7 410,468.7 420,465 427.5,466 433.7,470 437.5,472.5 443.7,474 455,474 468,472.7 485,470 500,468 515,467 528,466 538.7,465 550,462 557.5,460 562,457.5"/>
<polyline points="487,471 487,480"/>
<polyline points="401,18 405,20 411,21 417,22 420,29 425,37 428,45 437,49 445,47 444,42 436,37 435,34 440,32 452,30 450,25 445,24 442,18 446,14 450,11 456,8.5 462,6 464,0"/>
<polyline points="401,17.5 408,19 415,21 422,21.5 430,21 436,19 440,16 443,12 445,8 444,3 443,0"/>
<polyline points="428,35.5 429.5,36.2"/>
<polyline points="304.5,26.7 307,22.5 310.6,20 314.4,17.8 311.5,15.5 314.4,11.7 317.6,8 318.3,9.8 316,13 318,14 321,15 322.8,12 322.3,8 324.7,4.7 328.4,1.4 330,0"/>
<polyline points="307,22.5 309,23.5 312,22 315,20.5"/>
<polyline points="318,18 321,17.2 323,16"/>
<polyline points="315,27 317,26 318,28"/>
<polyline points="313,33 315,34.5"/>
<polyline points="309,41 311.5,41.5"/>
<polyline points="306,47 308.5,47.5"/>
<polyline points="333,0 335,3 334,6"/>
<polyline points="336,0 338,2.5"/>
<polyline points="300,55.6 302,56.5"/>
<polyline points="295,65.6 297,66.5"/>
<polyline points="282,81 284,80"/>
<polyline points="278.7,85.6 281,85"/>
<polyline points="280,90 277,91"/>
<polyline points="275,93.7 277.5,94.5"/>
<polyline points="268.7,97.5 271,97"/>
<polyline points="262.5,103.7 265,103.2"/>
<polyline points="288.7,83 291,84.4 294.4,82.5 297.5,78.5 296,81.5"/>
<polyline points="314,199.5 315.5,197.7 317.5,198.2 318,200.5 316.5,202 314.8,201.5 314,199.5"/>
<polyline points="320.3,207.2 321.5,206 323.3,206.6 323.5,208.2 322,209 320.5,208.3 320.3,207.2"/>
</g></svg>
<div class="box" id="title"></div><div class="box" id="date"></div>
<svg width="640" height="32" viewBox="0 0 640 32" style="z-index:3" font-family="DejaVu Sans, Liberation Sans, sans-serif" fill="#1a1a1a"><text x="5.2" y="12.6" font-size="9.9" textLength="181.2" lengthAdjust="spacingAndGlyphs">Heti hőmérséklet anomália (2m) [°C]</text><text x="5.2" y="24.7" font-size="8.9" textLength="172.3" lengthAdjust="spacingAndGlyphs">ECMWF 2020-12-10 00:00 UTC (+432h)</text><text x="511" y="12.7" font-size="9.4" textLength="123" lengthAdjust="spacingAndGlyphs">2020-12-21 - 2020-12-27</text></svg>
<div class="box" id="legend"><svg width="192" height="32" viewBox="444 444 192 32" style="left:0;top:0"><rect x="461.5" y="449" width="16.25" height="12" fill="#053061"/><rect x="477.75" y="449" width="16.25" height="12" fill="#2166ac"/><rect x="494" y="449" width="16.25" height="12" fill="#4393c3"/><rect x="510.25" y="449" width="16.25" height="12" fill="#92c5de"/><rect x="526.5" y="449" width="16.25" height="12" fill="#d1e5f0"/><rect x="552.5" y="449" width="16.25" height="12" fill="#fddbc7"/><rect x="568.75" y="449" width="16.25" height="12" fill="#f4a582"/><rect x="585" y="449" width="16.25" height="12" fill="#d6604d"/><rect x="601.25" y="449" width="16.25" height="12" fill="#b2182b"/><rect x="617.5" y="449" width="16.25" height="12" fill="#67001f"/><rect x="461.5" y="449" width="81.25" height="12" fill="none" stroke="#333" stroke-width=".8"/><rect x="552.5" y="449" width="81.25" height="12" fill="none" stroke="#333" stroke-width=".8"/><line x1="477.75" y1="449" x2="477.75" y2="464" stroke="#333" stroke-width=".8"/><line x1="568.75" y1="449" x2="568.75" y2="464" stroke="#333" stroke-width=".8"/><line x1="494" y1="449" x2="494" y2="464" stroke="#333" stroke-width=".8"/><line x1="585" y1="449" x2="585" y2="464" stroke="#333" stroke-width=".8"/><line x1="510.25" y1="449" x2="510.25" y2="464" stroke="#333" stroke-width=".8"/><line x1="601.25" y1="449" x2="601.25" y2="464" stroke="#333" stroke-width=".8"/><line x1="526.5" y1="449" x2="526.5" y2="464" stroke="#333" stroke-width=".8"/><line x1="617.5" y1="449" x2="617.5" y2="464" stroke="#333" stroke-width=".8"/><text x="477.75" y="470.5" font-size="7.4" text-anchor="middle" fill="#111">-10</text><text x="494" y="470.5" font-size="7.4" text-anchor="middle" fill="#111">-6</text><text x="510.25" y="470.5" font-size="7.4" text-anchor="middle" fill="#111">-3</text><text x="526.5" y="470.5" font-size="7.4" text-anchor="middle" fill="#111">-1</text><text x="568.75" y="470.5" font-size="7.4" text-anchor="middle" fill="#111">1</text><text x="585" y="470.5" font-size="7.4" text-anchor="middle" fill="#111">3</text><text x="601.25" y="470.5" font-size="7.4" text-anchor="middle" fill="#111">6</text><text x="617.5" y="470.5" font-size="7.4" text-anchor="middle" fill="#111">10</text><text x="448" y="461" font-size="7" fill="#111">°C</text></svg></div>
<div id="logo"><svg width="76" height="27" viewBox="3 449.5 76 27" style="left:0;top:0">
<path d="M5.8,458.8 A10.4,10.6 0 1 1 18,473 L17.2,471.2 A7,7.2 0 1 0 8.8,459.8 Z" fill="#3db4a2"/>
<path d="M18,473 Q10,475.6 6,469" fill="none" stroke="#4a8fd6" stroke-width="1.1"/>
<path d="M6.3,461.5 L7.6,466.2" fill="none" stroke="#4a8fd6" stroke-width="1.3" stroke-dasharray="1.2 0.8"/>
<path d="M17.4,458.4 A4.6,4.6 0 1 0 12.6,466.9 Q16.6,468 19.4,464.8" fill="none" stroke="#3db4a2" stroke-width="1.9"/>
<g font-size="5.3" fill="#5275ba" stroke="#5275ba" stroke-width="0.22" font-family="Liberation Sans, sans-serif">
<text x="30" y="458.4" textLength="31.2" lengthAdjust="spacingAndGlyphs">ORSZÁGOS</text>
<text x="30" y="464.8" textLength="47.3" lengthAdjust="spacingAndGlyphs">METEOROLÓGIAI</text>
<text x="30" y="471.1" textLength="32.5" lengthAdjust="spacingAndGlyphs">SZOLGÁLAT</text></g>
</svg></div>
</body></html>
